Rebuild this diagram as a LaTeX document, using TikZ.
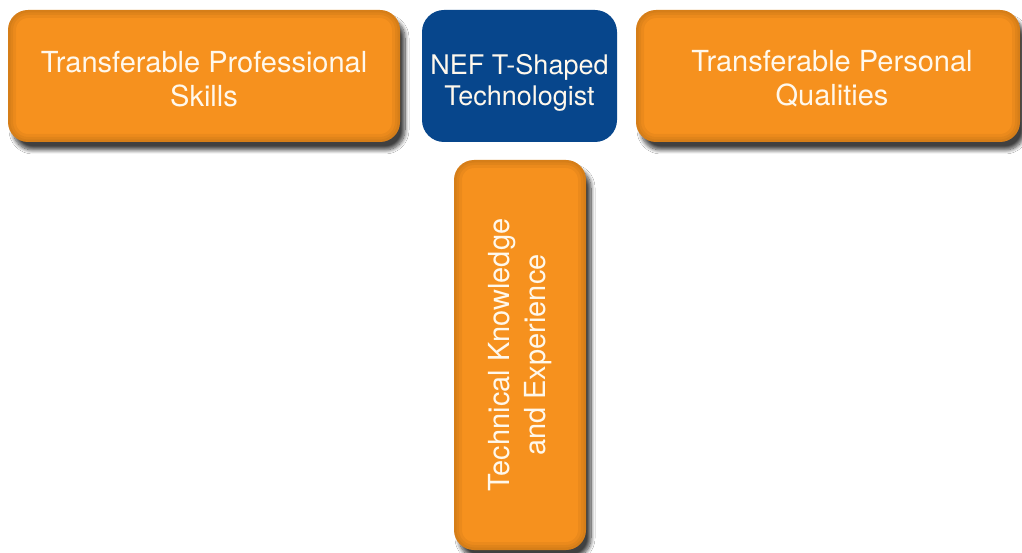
\documentclass[tikz,border=0pt]{standalone}
\usepackage{fontspec}
\setmainfont{TeX Gyre Heros}
\usetikzlibrary{shadows.blur}
\definecolor{tOrange}{HTML}{F6911E}
\definecolor{tBlue}{HTML}{07468C}
\definecolor{tText}{HTML}{FFF8EC}
\begin{document}
\begin{tikzpicture}[x=1pt,y=-1pt,
  tile/.style={rectangle, rounded corners=20pt, inner sep=0pt, align=center, text=tText},
  % soft darkening along the inside of a tile's rim
  rim/.style={path picture={
    \foreach \w in {16,10,5}
      \draw[rounded corners=20pt, line width=\w pt, black, opacity=0.045]
        (path picture bounding box.south west) rectangle (path picture bounding box.north east);}},
  skill/.style={tile, fill=tOrange, rim,
    blur shadow={shadow xshift=5pt, shadow yshift=-8pt, shadow opacity=75,
                 shadow blur steps=10, shadow blur radius=4pt}},
  core/.style={tile, fill=tBlue, rounded corners=22pt},
  topfont/.style={font=\fontsize{29}{34}\selectfont},
  corefont/.style={font=\fontsize{27}{31}\selectfont},
  techfont/.style={font=\fontsize{29}{36}\selectfont}
]
\useasboundingbox[fill=white] (0,0) rectangle (1022,553);

% the three tiles of the horizontal bar
\node[skill, minimum width=392pt, minimum height=132pt] (prof) at (204,76) {};
\node[align=center, text=tText, topfont, inner sep=0pt] (proflabel) at (204,79)
  {Transferable Professional\\Skills};
\node[core, minimum width=195pt, minimum height=132pt] (nef) at (519.5,76) {};
\node[align=center, text=tText, corefont, inner sep=0pt] (neflabel) at (519.5,83)
  {NEF T-Shaped\\Technologist};
\node[skill, minimum width=384pt, minimum height=132pt] (pers) at (828,76) {};
\node[align=center, text=tText, topfont, inner sep=0pt] (perslabel) at (832,79)
  {Transferable Personal\\Qualities};

% the vertical stem, with its label set sideways
\node[skill, minimum width=132pt, minimum height=390pt] (tech) at (520,355) {};
\node[rotate=90, align=center, text=tText, techfont, inner sep=0pt] (techlabel) at (tech.center)
  {Technical Knowledge\\and Experience};
\end{tikzpicture}
\end{document}
